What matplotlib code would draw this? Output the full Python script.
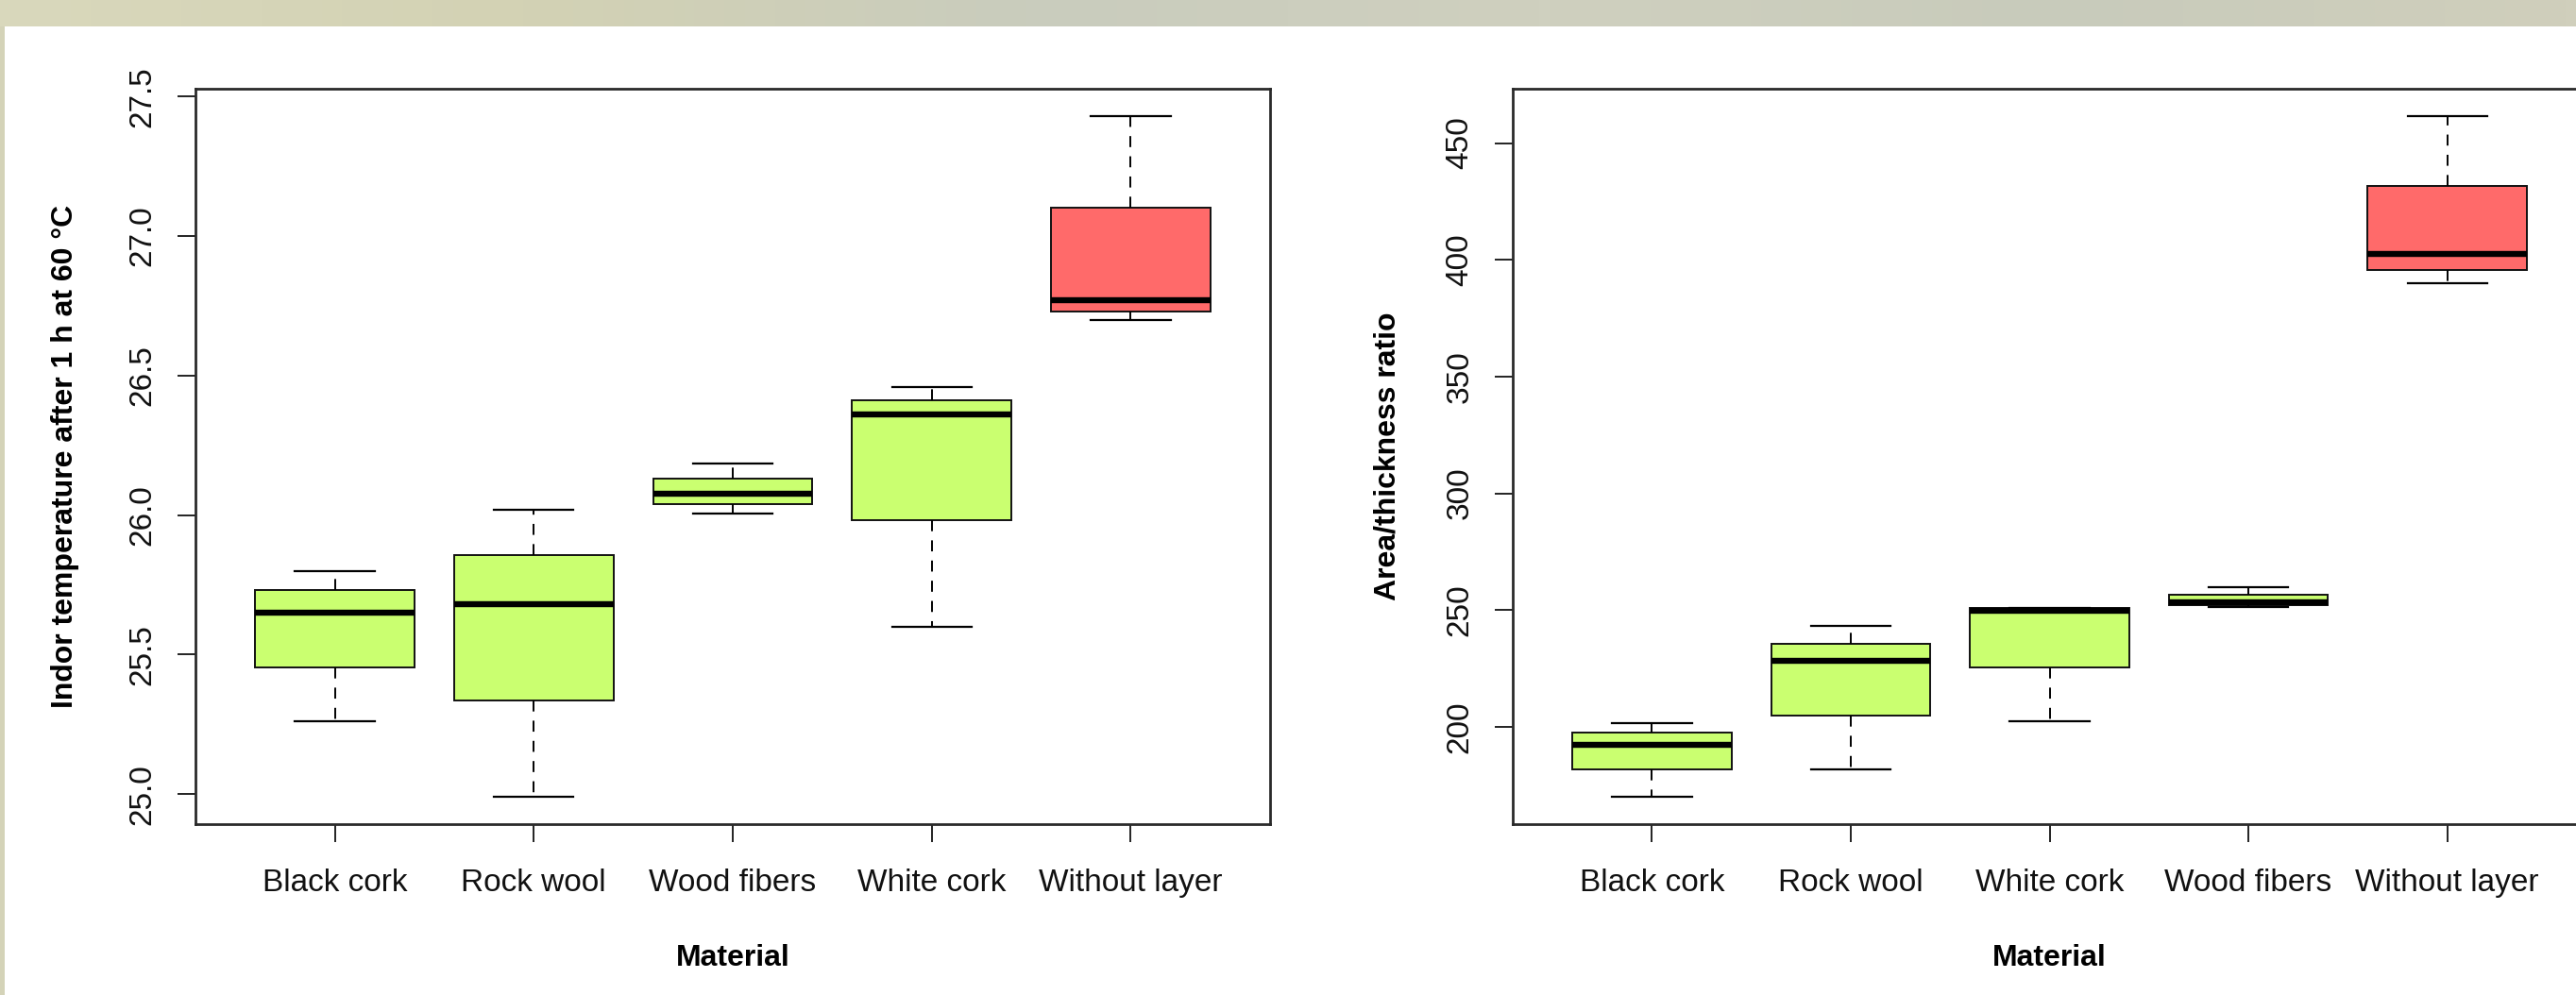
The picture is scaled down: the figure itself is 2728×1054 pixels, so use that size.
import numpy as np
import matplotlib
matplotlib.use("Agg")
from matplotlib import pyplot as plt
from matplotlib.patches import Rectangle
from matplotlib.colors import LinearSegmentedColormap

plt.rcParams['font.family'] = ['Liberation Sans', 'DejaVu Sans']

# left panel: indoor temperature
temp_cats = ["Black cork", "Rock wool", "Wood fibers", "White cork", "Without layer"]
temp_whislo = [25.26, 24.99, 26.005, 25.60, 26.70]
temp_q1 = [25.455, 25.335, 26.04, 25.98, 26.73]
temp_med = [25.65, 25.68, 26.075, 26.36, 26.77]
temp_q3 = [25.73, 25.855, 26.13, 26.41, 27.10]
temp_whishi = [25.80, 26.02, 26.185, 26.46, 27.43]
temp_ticks = [25.0, 25.5, 26.0, 26.5, 27.0, 27.5]

# right panel: area/thickness ratio
ratio_cats = ["Black cork", "Rock wool", "White cork", "Wood fibers", "Without layer"]
ratio_whislo = [170.0, 181.6, 202.2, 251.5, 390.0]
ratio_q1 = [181.6, 204.8, 225.6, 252.1, 395.7]
ratio_med = [192.3, 228.3, 249.7, 253.5, 402.7]
ratio_q3 = [197.4, 235.7, 250.8, 256.5, 431.6]
ratio_whishi = [201.5, 243.4, 250.8, 259.8, 461.6]
ratio_ticks = [200, 250, 300, 350, 400, 450]

green = "#caff70"
red = "#ff6a6a"
W, H = 2728, 1054

fig = plt.figure(figsize=(W / 100, H / 100), dpi=100)
fig.patch.set_facecolor("#d4d3b8")

# banner strip on top (plain gradient standing in for the photo)
bg = LinearSegmentedColormap.from_list("bg", ["#d9d8bc", "#d3d2b4", "#c9ccbd", "#cfd0bf", "#c8cbbb", "#d0cfbc"])
strip = fig.add_axes([0, 1 - 28 / H, 1, 28 / H], zorder=-2)
strip.imshow(np.linspace(0, 1, 256)[None, :], aspect="auto", cmap=bg, extent=[0, 1, 0, 1])
strip.axis("off")
fig.add_artist(Rectangle((5 / W, 0), 1, 1 - 28 / H, transform=fig.transFigure,
                         facecolor="white", edgecolor="none", zorder=-1))


def panel(rect, cats, lo, q1, med, q3, hi, ticks, ylab, ylab_x):
    ax = fig.add_axes(rect)
    stats = []
    for i in range(len(cats)):
        stats.append(dict(whislo=lo[i], q1=q1[i], med=med[i], q3=q3[i], whishi=hi[i], label=cats[i]))
    pos = np.arange(1, len(cats) + 1)
    bp = ax.bxp(stats, positions=pos, widths=0.8, capwidths=0.4, patch_artist=True,
                showfliers=False,
                boxprops=dict(edgecolor="#111111", linewidth=1.4),
                medianprops=dict(color="black", linewidth=4.6, solid_capstyle="butt"),
                whiskerprops=dict(color="black", linewidth=1.4, linestyle=(0, (6, 5))),
                capprops=dict(color="black", linewidth=1.6))
    for i, b in enumerate(bp["boxes"]):
        b.set_facecolor(red if cats[i] == "Without layer" else green)
    ax.set_xlim(0.3, len(cats) + 0.7)
    ymin, ymax = min(lo), max(hi)
    pad = 0.04 * (ymax - ymin)
    ax.set_ylim(ymin - pad, ymax + pad)
    ax.set_yticks(ticks)
    ax.set_yticklabels([("%.1f" % t) if isinstance(t, float) else str(t) for t in ticks])
    ax.set_xticks(pos)
    ax.set_xticklabels(cats)
    ax.tick_params(axis="both", length=14, width=1.4, color="#222222", labelsize=24, labelcolor="#111111")
    ax.tick_params(axis="x", pad=20)
    ax.tick_params(axis="y", pad=15, labelrotation=90)
    for t in ax.get_yticklabels():
        t.set_va("center")
    for s in ax.spines.values():
        s.set_linewidth(2.0)
        s.set_color("#2a2a2a")
    ax.set_ylabel(ylab, fontsize=23, fontweight="bold")
    ax.yaxis.set_label_coords(ylab_x, 0.5)
    ax.set_xlabel("Material", fontsize=23, fontweight="bold")
    ax.xaxis.set_label_coords(0.5, -0.163)
    return ax


panel([207 / W, (H - 873) / H, 1138 / W, 779 / H], temp_cats, temp_whislo, temp_q1, temp_med,
      temp_q3, temp_whishi, temp_ticks, "Indor temperature after 1 h at 60 \u00b0C", -0.108)
panel([1602 / W, (H - 873) / H, 1137 / W, 779 / H], ratio_cats, ratio_whislo, ratio_q1, ratio_med,
      ratio_q3, ratio_whishi, ratio_ticks, "Area/thickness ratio", -0.103)

fig.savefig("out.png", dpi=100, facecolor=fig.get_facecolor())
